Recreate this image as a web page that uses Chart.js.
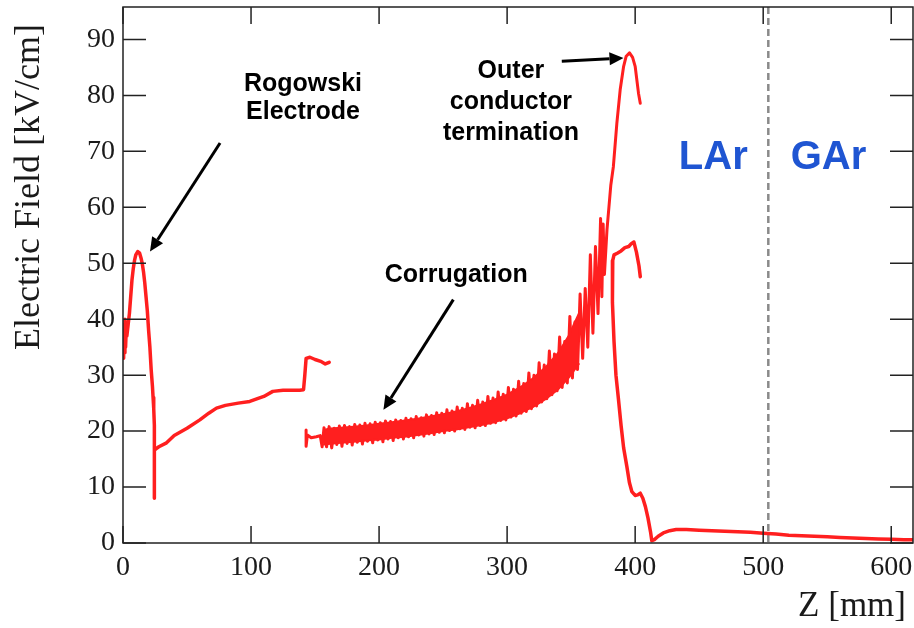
<!DOCTYPE html>
<html>
<head>
<meta charset="utf-8">
<script src="https://cdn.jsdelivr.net/npm/chart.js@4.4.1/dist/chart.umd.min.js"></script>
<style>
  html, body { margin: 0; padding: 0; background: #fff; }
  #wrap { width: 914px; height: 628px; position: relative; }
</style>
</head>
<body>
<div id="wrap"><canvas id="c"></canvas></div>
<script>
// ---- Data ----
const xTicks = [0, 100, 200, 300, 400, 500, 600];
const yTicks = [0, 10, 20, 30, 40, 50, 60, 70, 80, 90];
const xMax = 617;
const yMax = 95.8;
const interfaceZ = 504; // LAr / GAr boundary

// Rogowski electrode + smooth section + step
const rogowskiZ = [0,0.5,1,1.5,2,2.5,3,4,5,6,7,8,9,10,11.5,13,14,15,16,17,18,19,20,21,22,23,23.5,24,24.5,24.5,24.5,25.5,28,34,40,50,60,67,73,80,90,99,105,110,117,125,138,141,142,143,146,150,155,158,161];
const rogowskiE = [33,39,34,40,35,38,37,39,41,44,47,49,50.5,51.5,52.1,51.8,51,50,48.5,46.5,44,41.5,38,35,31,28,26,24,21,8,16.5,16.8,17.2,17.9,19.2,20.5,22,23.2,24.1,24.6,25,25.3,25.8,26.2,27.1,27.3,27.3,27.4,30,33,33.2,32.8,32.4,32.0,32.3];

// Corrugated section rising into the outer-conductor termination peak
const corrZ = [143,143,144,147,151,154,155.5,
  157,159,161,163,165,167,169,171,173,175,177,179,181,183,185,187,189,191,193,195,197,199,
  201,203,205,207,209,211,213,215,217,219,221,223,225,227,229,231,233,235,237,239,
  241,243,245,247,249,251,253,255,257,259,261,263,265,267,269,271,273,275,277,279,
  281,283,285,287,289,291,293,295,297,299,301,303,305,307,309,311,313,315,317,319,
  321,323,325,327,329,331,333,335,337,339,341,343,345,347,349,351,353,355,357,359,
  361,363,365,367,369,371,373,374,375,376,378,379.5,381,383,385.7,388.3,391,393,395.6,398,400,402.6,404];
const corrE = [20.2,17.3,19.3,18.8,19.0,19.2,17.2,
  20.6,17.2,20.8,17.0,20.5,17.6,20.9,17.3,21.0,17.8,20.8,17.5,21.2,18.0,21.1,17.7,21.4,18.2,21.3,17.9,21.6,18.4,
  21.5,18.1,21.8,18.6,21.7,18.3,22.0,18.8,21.9,18.6,22.3,19.0,22.2,18.8,22.6,19.3,22.4,19.1,22.9,19.5,
  22.8,19.4,23.3,19.8,23.2,19.7,23.8,20.1,23.6,20.0,24.3,20.4,24.1,20.3,24.9,20.7,24.6,20.6,25.5,21.0,
  25.2,21.0,26.2,21.4,25.9,21.5,27.0,21.9,26.6,22.0,27.8,22.5,27.5,22.7,28.9,23.2,28.5,23.5,30.4,24.0,
  30.0,24.5,32.2,25.2,31.8,25.8,34.3,26.5,33.8,27.2,36.8,27.8,36.0,28.6,40.5,29.5,39.5,31.0,44.5,33.0,
  45.5,35.0,51.5,37.5,53.0,41.0,58.0,44.0,57.0,48.0,56.0,60.0,64.0,67.3,75.0,81.0,85.2,87.0,87.6,86.8,85.2,80.4,78.6];

// Solid core of the corrugation band (between the teeth)
const bandZ  = [157,160,170,180,190,200,210,220,230,240,250,260,270,280,290,300,310,320,330,340,348,356];
const bandHi = [20.2,20.4,20.6,20.8,21.0,21.3,21.6,21.9,22.2,22.6,23.0,23.5,24.1,24.8,25.6,26.5,27.8,29.4,31.4,34.0,37.0,41.0];
const bandLo = [17.6,17.7,17.9,18.1,18.3,18.5,18.8,19.0,19.3,19.6,20.0,20.3,20.7,21.1,21.6,22.3,23.2,24.3,25.7,27.5,29.5,32.0];

// Lower branch: plateau near 52 kV/cm, then decay through the gas region
const lowerZ = [404,403,401,399,397,395,392,389,386,383.5,382.5,382,382.5,383.5,385,387,389,391,393.5,395.5,397.4,400,402,404,406,408,410,412,413,415,418,422,427,432,440,450,460,470,480,490,500,510,520,530,540,550,560,570,580,590,600,610,617];
const lowerE = [47.6,49.5,52.0,53.8,53.5,53.0,52.8,52.2,51.8,51.5,50.5,47,43,36,30,25.6,21,17,13.7,10.8,9.2,8.5,8.6,8.9,8.0,6.5,4.5,2.0,0.4,0.6,1.2,1.8,2.2,2.4,2.4,2.3,2.2,2.1,2.0,1.9,1.75,1.6,1.4,1.3,1.2,1.1,1.0,0.9,0.8,0.7,0.65,0.6,0.6];

// ---- Build datasets ----
const toPts = (zs, es) => zs.map((z, i) => ({ x: z, y: es[i] }));
const RED = '#ff1f1f';
const mkDs = (zs, es, extra) => Object.assign({
  data: toPts(zs, es), showLine: true, borderColor: RED, backgroundColor: RED,
  borderWidth: 3.5, pointRadius: 0, tension: 0, borderJoinStyle: 'round', borderCapStyle: 'round', fill: false
}, extra || {});

const SERIF = '"Liberation Serif", "Times New Roman", serif';
const SANS = '"Liberation Sans", Arial, Helvetica, sans-serif';

function arrow(ctx, x1, y1, x2, y2) {
  const ang = Math.atan2(y2 - y1, x2 - x1);
  const hl = 14, hw = 6.5;
  const bx = x2 - hl * Math.cos(ang), by = y2 - hl * Math.sin(ang);
  ctx.save();
  ctx.strokeStyle = '#000'; ctx.fillStyle = '#000'; ctx.lineWidth = 3;
  ctx.beginPath(); ctx.moveTo(x1, y1); ctx.lineTo(bx, by); ctx.stroke();
  ctx.beginPath();
  ctx.moveTo(x2, y2);
  ctx.lineTo(bx + hw * Math.sin(ang), by - hw * Math.cos(ang));
  ctx.lineTo(bx - hw * Math.sin(ang), by + hw * Math.cos(ang));
  ctx.closePath(); ctx.fill();
  ctx.restore();
}

const decor = {
  id: 'decor',
  beforeDatasetsDraw(chart) {
    const { ctx, chartArea: a, scales: { x } } = chart;
    ctx.save();
    ctx.strokeStyle = '#8a8a8a'; ctx.lineWidth = 2.5; ctx.setLineDash([7, 4]);
    const px = x.getPixelForValue(interfaceZ);
    ctx.beginPath(); ctx.moveTo(px, a.top); ctx.lineTo(px, a.bottom); ctx.stroke();
    ctx.restore();
  },
  afterDraw(chart) {
    const { ctx, chartArea: a, scales: { x, y } } = chart;
    ctx.save();
    ctx.strokeStyle = '#222'; ctx.lineWidth = 1.5;
    ctx.strokeRect(a.left, a.top, a.right - a.left, a.bottom - a.top);
    ctx.beginPath();
    xTicks.forEach(v => {
      const p = x.getPixelForValue(v);
      ctx.moveTo(p, a.bottom); ctx.lineTo(p, a.bottom - 17);
      ctx.moveTo(p, a.top); ctx.lineTo(p, a.top + 17);
    });
    yTicks.forEach(v => {
      const p = y.getPixelForValue(v);
      ctx.moveTo(a.left, p); ctx.lineTo(a.left + 23, p);
      ctx.moveTo(a.right, p); ctx.lineTo(a.right - 23, p);
    });
    ctx.stroke();

    ctx.fillStyle = '#1a1a1a';
    ctx.font = '36px ' + SERIF;
    ctx.save();
    ctx.translate(30, 187); ctx.rotate(-Math.PI / 2);
    ctx.textAlign = 'center'; ctx.textBaseline = 'middle';
    ctx.fillText('Electric Field [kV/cm]', 0, 0);
    ctx.restore();
    ctx.textAlign = 'right'; ctx.textBaseline = 'alphabetic';
    ctx.font = '35px ' + SERIF;
    ctx.fillText('Z [mm]', 906, 616);

    const P = (zv, ev) => [x.getPixelForValue(zv), y.getPixelForValue(ev)];
    ctx.fillStyle = '#000';
    ctx.font = 'bold 25px ' + SANS;
    ctx.textAlign = 'center'; ctx.textBaseline = 'middle';
    const txt = (s, zv, ev) => { const [tx, ty] = P(zv, ev); ctx.fillText(s, tx, ty); };
    txt('Rogowski', 140.6, 82.1);
    txt('Electrode', 140.6, 77.1);
    txt('Outer', 303, 84.4);
    txt('conductor', 303, 78.8);
    txt('termination', 303, 73.3);
    txt('Corrugation', 260.2, 47.9);

    ctx.fillStyle = '#1f55d2';
    ctx.font = 'bold 40px ' + SANS;
    txt('LAr', 461, 68.8);
    txt('GAr', 551, 68.8);

    const ar = (z1, e1, z2, e2) => { const [a1, b1] = P(z1, e1), [a2, b2] = P(z2, e2); arrow(ctx, a1, b1, a2, b2); };
    ar(75.8, 71.5, 21.1, 52.1);
    ar(258, 43.5, 203.4, 23.8);
    ar(342.7, 86.1, 390.9, 86.7);
    ctx.restore();
  }
};

new Chart(document.getElementById('c'), {
  type: 'scatter',
  data: { datasets: [
    mkDs(bandZ, bandLo, { borderWidth: 2 }),
    mkDs(bandZ, bandHi, { borderWidth: 2, fill: '-1' }),
    mkDs(rogowskiZ, rogowskiE),
    mkDs(corrZ, corrE, { borderWidth: 3 }),
    mkDs(lowerZ, lowerE)
  ] },
  options: {
    responsive: true, maintainAspectRatio: false, animation: false,
    layout: { padding: { top: 7, right: 1, left: 0, bottom: 0 } },
    plugins: { legend: { display: false }, tooltip: { enabled: false }, filler: { propagate: false } },
    scales: {
      x: {
        type: 'linear', min: 0, max: xMax,
        afterBuildTicks: s => { s.ticks = xTicks.map(v => ({ value: v })); },
        afterFit: s => { s.height = 85; s.paddingLeft = 0; s.paddingRight = 0; },
        grid: { display: false, drawTicks: false },
        border: { display: false },
        ticks: { padding: 8, color: '#1a1a1a', font: { family: SERIF, size: 28 }, maxRotation: 0, autoSkip: false }
      },
      y: {
        type: 'linear', min: 0, max: yMax,
        afterBuildTicks: s => { s.ticks = yTicks.map(v => ({ value: v })); },
        afterFit: s => { s.width = 123; s.paddingTop = 0; s.paddingBottom = 0; },
        grid: { display: false, drawTicks: false },
        border: { display: false },
        ticks: { padding: 8, color: '#1a1a1a', font: { family: SERIF, size: 28 }, autoSkip: false }
      }
    }
  },
  plugins: [decor]
});
</script>
</body>
</html>
